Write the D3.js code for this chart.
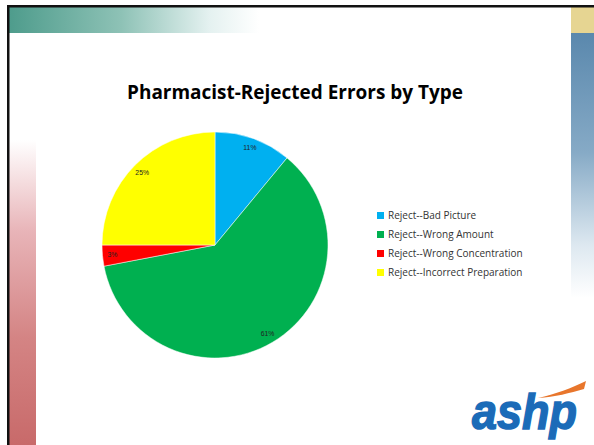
<!DOCTYPE html>
<html><head><meta charset="utf-8">
<script src="https://cdn.jsdelivr.net/npm/d3@7"></script>
<style>html,body{margin:0;padding:0;background:#fff;overflow:hidden}</style>
</head><body>
<svg id="c" width="594" height="445"></svg>
<script>
const categories = ["Reject--Bad Picture","Reject--Wrong Amount","Reject--Wrong Concentration","Reject--Incorrect Preparation"];
const values = [11, 61, 3, 25];
const labels = ["11%","61%","3%","25%"];
const colors = ["#00B0F0","#00B050","#FF0000","#FFFF00"];
const title = "Pharmacist-Rejected Errors by Type";

const svg = d3.select("#c");
const defs = svg.append("defs");

const gTeal = defs.append("linearGradient").attr("id","teal").attr("x1","0").attr("x2","1").attr("y1","0").attr("y2","0");
gTeal.append("stop").attr("offset","0").attr("stop-color","#4e9c8c");
gTeal.append("stop").attr("offset","0.45").attr("stop-color","#8ec2b6");
gTeal.append("stop").attr("offset","0.8").attr("stop-color","#e4f1f0");
gTeal.append("stop").attr("offset","1").attr("stop-color","#ffffff");
const gRed = defs.append("linearGradient").attr("id","red").attr("x1","0").attr("x2","0").attr("y1","0").attr("y2","1");
gRed.append("stop").attr("offset","0").attr("stop-color","#ffffff");
gRed.append("stop").attr("offset","0.3").attr("stop-color","#e8b4b8");
gRed.append("stop").attr("offset","0.65").attr("stop-color","#d48484");
gRed.append("stop").attr("offset","1").attr("stop-color","#c86a6a");
const gBlue = defs.append("linearGradient").attr("id","blue").attr("x1","0").attr("x2","0").attr("y1","0").attr("y2","1");
gBlue.append("stop").attr("offset","0").attr("stop-color","#5a88ad");
gBlue.append("stop").attr("offset","0.45").attr("stop-color","#86aac6");
gBlue.append("stop").attr("offset","0.8").attr("stop-color","#dde8f0");
gBlue.append("stop").attr("offset","1").attr("stop-color","#ffffff");

svg.append("rect").attr("x",9).attr("y",7).attr("width",250).attr("height",26).attr("fill","url(#teal)");
svg.append("rect").attr("x",9).attr("y",140).attr("width",27).attr("height",305).attr("fill","url(#red)");
svg.append("rect").attr("x",571).attr("y",7).attr("width",23).attr("height",26).attr("fill","#e6d592");
svg.append("rect").attr("x",571).attr("y",33).attr("width",23).attr("height",265).attr("fill","url(#blue)");
svg.append("rect").attr("x",7).attr("y",5).attr("width",587).attr("height",2.5).attr("fill","#111");
svg.append("rect").attr("x",7).attr("y",5).attr("width",2.5).attr("height",440).attr("fill","#111");

svg.append("text").attr("x",295).attr("y",99).attr("text-anchor","middle")
  .attr("font-family","Open Sans, sans-serif").attr("font-weight","bold").attr("font-size",19)
  .attr("textLength",336).attr("lengthAdjust","spacingAndGlyphs")
  .attr("fill","#000").text(title);

const cx = 215, cy = 245, r = 113;
const pie = d3.pie().sort(null).value(d => d)(values);
const arc = d3.arc().innerRadius(0).outerRadius(r);
const labelArc = d3.arc().innerRadius(103).outerRadius(103);
const g = svg.append("g").attr("transform",`translate(${cx},${cy})`);
g.selectAll("path").data(pie).join("path")
  .attr("d",arc).attr("fill",(d,i)=>colors[i])
  .attr("stroke","#fff").attr("stroke-width",0.5);
g.selectAll("text").data(pie).join("text")
  .attr("transform",d=>`translate(${labelArc.centroid(d)})`)
  .attr("text-anchor","middle").attr("dy","0.35em")
  .attr("font-family","Liberation Sans, Arial, sans-serif").attr("font-size",6.8)
  .attr("fill","#222").text((d,i)=>labels[i]);

const y = d3.scaleBand().domain(categories).range([206,282]);
const lg = svg.append("g");
const items = lg.selectAll("g").data(categories).join("g")
  .attr("transform",d=>`translate(377,${y(d)+y.bandwidth()/2})`);
items.append("rect").attr("x",0).attr("y",-3.5).attr("width",7).attr("height",7)
  .attr("fill",(d,i)=>colors[i]);
items.append("text").attr("x",11).attr("dy","0.35em")
  .attr("font-family","Open Sans, sans-serif").attr("font-size",10)
  .attr("fill","#333").text(d=>d);

const logo = svg.append("g");
logo.append("path").attr("d","M538,398 C555,394 572,388 586,381 L584,389 C570,393 555,397 538,398 Z").attr("fill","#e8762c");
logo.append("text").attr("x",472).attr("y",429)
  .attr("font-family","Liberation Sans, Arial, sans-serif").attr("font-weight","bold").attr("font-style","italic")
  .attr("font-size",50).attr("textLength",105).attr("lengthAdjust","spacingAndGlyphs")
  .attr("stroke","#1b6bb8").attr("stroke-width",1.5)
  .attr("fill","#1b6bb8").text("ashp");
</script>
</body></html>
